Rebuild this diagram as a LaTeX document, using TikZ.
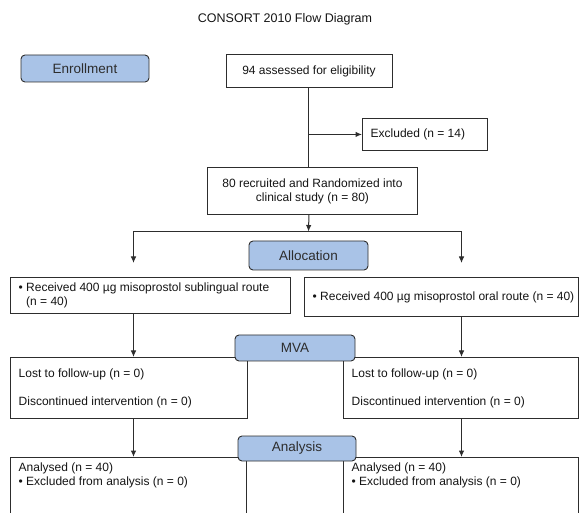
\documentclass[tikz,border=0pt]{standalone}
\usepackage{fontspec}
\setmainfont{Liberation Sans}
\usetikzlibrary{arrows.meta}
\definecolor{stageblue}{RGB}{169,195,231}
\definecolor{inkgray}{RGB}{45,45,45}
\tikzset{
  >={Latex[length=6.5pt,width=5.5pt]},
  box/.style={draw=inkgray, line width=0.9pt, inner sep=0pt, anchor=north west,
    font=\fontsize{12}{14}\selectfont, text=black!92},
  note/.style={inner xsep=8.5pt, inner ysep=6pt, align=left,
    font=\fontsize{12}{14}\selectfont, text=black!92},
  stage/.style={draw=inkgray, fill=stageblue, rounded corners=4pt, line width=0.9pt,
    inner sep=0pt, font=\fontsize{13.5}{16}\selectfont, text=inkgray},
  link/.style={draw=inkgray, line width=1pt}
}

\begin{document}
\begin{tikzpicture}[x=1pt,y=-1pt]
  \clip (0,0) rectangle (579,513);
  \node[font=\fontsize{12.5}{15}\selectfont, text=black!92] (title) at (285,19) {CONSORT 2010 Flow Diagram};

  % boxes
  \node[box, minimum width=166pt, minimum height=33pt] (assess) at (225.5,54) {94 assessed for eligibility};
  \node[box, minimum width=125pt, minimum height=32pt,
    label={[note, anchor=west]west:Excluded (n = 14)}] (excl) at (362,118) {};
  \node[box, minimum width=210pt, minimum height=47pt, align=center] (recruit) at (207,167)
    {80 recruited and Randomized into\\clinical study (n = 80)};
  \node[box, minimum width=280pt, minimum height=36pt,
    label={[note, anchor=west]west:• Received 400 µg misoprostol sublingual route\\\phantom{• }(n = 40)}] (subl) at (10,277) {};
  \node[box, minimum width=274pt, minimum height=39pt,
    label={[note, anchor=west]west:• Received 400 µg misoprostol oral route (n = 40)}] (oral) at (304,277) {};
  \node[box, minimum width=237pt, minimum height=61pt,
    label={[note, anchor=west]west:Lost to follow-up (n = 0)\\[14pt]Discontinued intervention (n = 0)}] (mvaL) at (10,357) {};
  \node[box, minimum width=235pt, minimum height=61pt,
    label={[note, anchor=west]west:Lost to follow-up (n = 0)\\[14pt]Discontinued intervention (n = 0)}] (mvaR) at (343,357) {};
  \node[box, minimum width=236pt, minimum height=80pt,
    label={[note, anchor=north west]north west:Analysed (n = 40)\\• Excluded from analysis (n = 0)}] (anaL) at (10,457) {};
  \node[box, minimum width=235pt, minimum height=80pt,
    label={[note, anchor=north west]north west:Analysed (n = 40)\\• Excluded from analysis (n = 0)}] (anaR) at (343,457) {};

  % stage labels
  \node[stage, minimum width=128pt, minimum height=27pt] (enrol) at (85,68.5) {Enrollment};
  \node[stage, minimum width=119pt, minimum height=29pt] (alloc) at (308.5,255.5) {Allocation};
  \node[stage, minimum width=120pt, minimum height=26pt] (mva) at (295,348) {MVA};
  \node[stage, minimum width=118pt, minimum height=25pt] (analysis) at (297,448.5) {Analysis};

  % connectors
  \coordinate (split) at (308.5,231.5);
  \coordinate (armL) at (133.5,263);
  \coordinate (armR) at (461.5,263);
  \draw[link] (assess.south) -- (assess.south |- recruit.north);
  \draw[link,->] (assess.south |- excl.west) -- (excl.west);
  \draw[link,->] (assess.south |- recruit.south) -- (split);
  \draw[link] (split -| armL) -- (split -| armR);
  \draw[link,->] (split -| armL) -- (armL);
  \draw[link,->] (split -| armR) -- (armR);
  \draw[link,->] (subl.south -| armL) -- (mvaL.north -| armL);
  \draw[link,->] (oral.south -| armR) -- (mvaR.north -| armR);
  \draw[link,->] (mvaL.south -| armL) -- (anaL.north -| armL);
  \draw[link,->] (mvaR.south -| armR) -- (anaR.north -| armR);
\end{tikzpicture}
\end{document}
